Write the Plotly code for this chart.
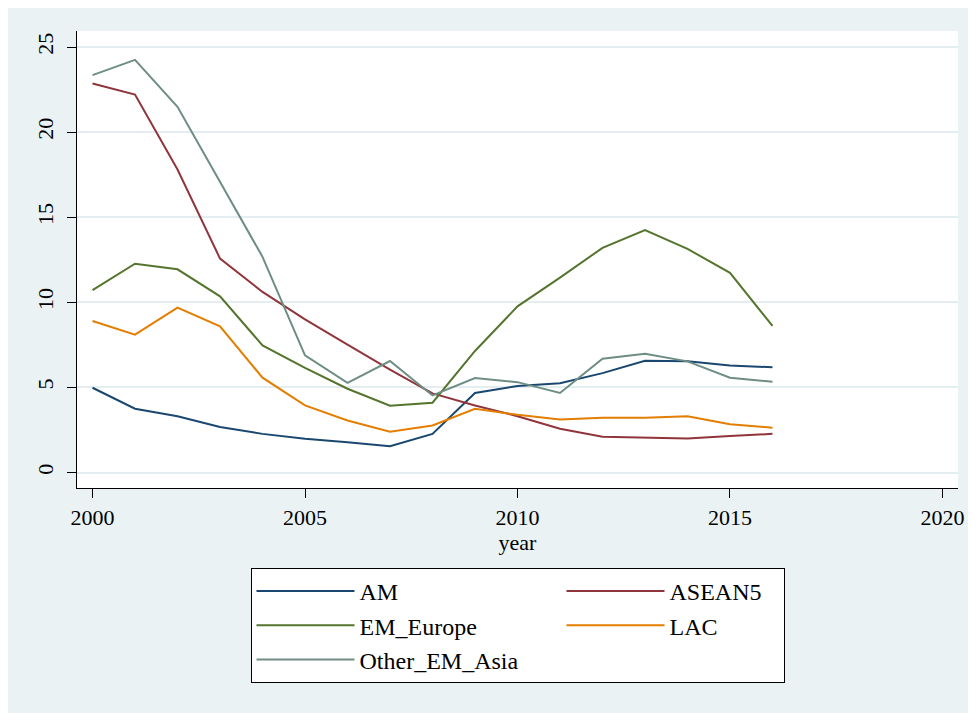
import plotly.graph_objects as go

years = [2000, 2001, 2002, 2003, 2004, 2005, 2006, 2007, 2008,
         2009, 2010, 2011, 2012, 2013, 2014, 2015, 2016]

AM = [4.98, 3.75, 3.30, 2.68, 2.27, 1.98, 1.78, 1.55, 2.27,
      4.67, 5.08, 5.25, 5.84, 6.57, 6.53, 6.29, 6.18]
ASEAN5 = [22.86, 22.21, 17.80, 12.57, 10.61, 9.00, 7.52, 6.05, 4.65,
          3.94, 3.31, 2.57, 2.10, 2.06, 2.00, 2.14, 2.27]
EM_Europe = [10.71, 12.27, 11.94, 10.35, 7.47, 6.15, 4.92, 3.92, 4.10,
             7.14, 9.76, 11.45, 13.20, 14.24, 13.14, 11.73, 8.61]
LAC = [8.90, 8.10, 9.69, 8.59, 5.57, 3.94, 3.06, 2.39, 2.76,
       3.74, 3.39, 3.12, 3.22, 3.22, 3.31, 2.84, 2.63]
Other_EM_Asia = [23.35, 24.24, 21.49, 17.09, 12.67, 6.88, 5.27, 6.55, 4.53,
                 5.55, 5.31, 4.67, 6.69, 6.98, 6.53, 5.57, 5.33]

series_names = ["AM", "ASEAN5", "EM_Europe", "LAC", "Other_EM_Asia"]
series_values = [AM, ASEAN5, EM_Europe, LAC, Other_EM_Asia]
series_colors = ["#1a476f", "#90353b", "#55752f", "#e37e00", "#6e8e84"]
legend_widths = [197, 109, 197, 109, 197]

x_ticks = [2000, 2005, 2010, 2015, 2020]
y_ticks = [0, 5, 10, 15, 20, 25]

FONT = "Liberation Serif"
BG = "#EAF2F3"

fig = go.Figure()
for name, vals, col, lw in zip(series_names, series_values, series_colors, legend_widths):
    fig.add_trace(go.Scatter(
        x=years, y=vals, name=name, mode="lines",
        line=dict(color=col, width=2),
        legendwidth=lw,
    ))

# the page places the figure 8px from the top-left corner
W, H = 976, 713
L, R, T, B = 69, 26, 23, 233
ph = H - T - B


def px_y(p):
    return (H - B - p) / ph


fig.update_layout(
    width=W, height=H,
    margin=dict(l=L, r=R, t=T, b=B, pad=0, autoexpand=False),
    paper_bgcolor=BG,
    plot_bgcolor="white",
    font=dict(family=FONT, size=22, color="black"),
    xaxis=dict(
        range=[1999.635, 2020.365],
        tickvals=x_ticks,
        ticks="outside", ticklen=9, tickwidth=1.3, tickcolor="black",
        showline=True, linecolor="black", linewidth=1.3,
        showgrid=False, zeroline=False, automargin=False,
        tickfont=dict(size=22),
        title=dict(text="year", font=dict(size=22), standoff=2),
    ),
    yaxis=dict(
        range=[-0.91, 25.94],
        tickvals=y_ticks,
        tickangle=-90,
        ticks="outside", ticklen=9, tickwidth=1.3, tickcolor="black",
        showline=True, linecolor="black", linewidth=1.3,
        showgrid=True, gridcolor="#E4EDF0", gridwidth=1.5,
        zeroline=False, automargin=False,
        ticklabelstandoff=5,
        tickfont=dict(size=22),
    ),
    legend=dict(
        orientation="h",
        x=0.5, xanchor="center",
        y=px_y(560), yanchor="top",
        bgcolor="white", bordercolor="black", borderwidth=1,
        font=dict(family=FONT, size=24, color="black"),
        itemwidth=98,
        traceorder="normal",
    ),
    showlegend=True,
)

fig.write_html("out.html")
